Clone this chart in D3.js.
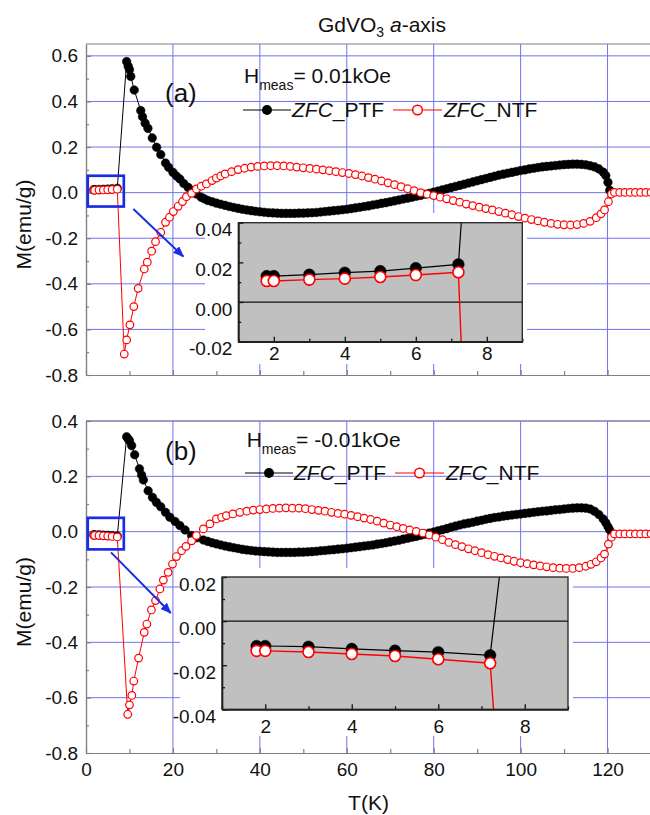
<!DOCTYPE html>
<html>
<head>
<meta charset="utf-8">
<script src="https://cdn.jsdelivr.net/npm/d3@7"></script>
<style>
  body { margin: 0; background: #fff; }
  svg text { font-family: "Liberation Sans", Arial, Helvetica, sans-serif; fill: #111; }
</style>
</head>
<body>
<div id="chart"></div>
<script>
// ---- data ----
// temperatures of the dense part of the ZFC_PTF runs (K)
var ptfBandTemp = [
  28, 29, 30, 31, 32, 33, 34, 35, 36, 37,
  38, 39, 40, 41, 42, 43, 44, 45, 46, 47,
  48, 49, 50, 51, 52, 53, 54, 55, 56, 57,
  58, 59, 60, 61, 62, 63, 64, 65, 66, 67,
  68, 69, 70, 71, 72, 73, 74, 75, 76, 77,
  78, 79, 80, 81, 82, 83, 84, 85, 86, 87,
  88, 89, 90, 91, 92, 93, 94, 95, 96, 97,
  98, 99, 100, 101, 102, 103, 104, 105, 106, 107,
  108, 109, 110, 111, 112, 113, 114, 115, 116, 117,
  118, 119, 119.6, 120.1, 120.5
];

// (a) H = 0.01 kOe, ZFC_PTF
var ptfTempA = [
  1.8, 2.0, 3, 4, 5, 6, 7.2, 9.35, 9.7, 10.0,
  10.3, 11.1, 12.6, 13.0, 13.6, 14.25, 15.25, 16.25, 17.2, 18.3,
  19.0, 20.0, 20.8, 21.6, 22.5, 23.5, 24.5, 25.4, 26.5, 27.2
].concat(ptfBandTemp);
var ptfMagA = [
  0.0131, 0.0131, 0.0138, 0.0148, 0.0156, 0.0171, 0.0190, 0.575, 0.555, 0.540,
  0.510, 0.450, 0.360, 0.333, 0.305, 0.282, 0.240, 0.199, 0.167, 0.130,
  0.111, 0.089, 0.073, 0.060, 0.040, 0.023, 0.008, -0.006, -0.020, -0.027,
  -0.034, -0.040, -0.046, -0.051, -0.056, -0.061, -0.065, -0.069, -0.073, -0.076,
  -0.079, -0.082, -0.084, -0.086, -0.088, -0.089, -0.090, -0.091, -0.091, -0.091,
  -0.091, -0.090, -0.090, -0.089, -0.088, -0.087, -0.085, -0.083, -0.081, -0.079,
  -0.077, -0.075, -0.073, -0.070, -0.067, -0.064, -0.061, -0.058, -0.054, -0.051,
  -0.047, -0.044, -0.040, -0.036, -0.032, -0.028, -0.024, -0.020, -0.016, -0.012,
  -0.007, -0.003, 0.002, 0.007, 0.012, 0.017, 0.022, 0.027, 0.032, 0.037,
  0.042, 0.047, 0.052, 0.057, 0.062, 0.067, 0.072, 0.077, 0.081, 0.085,
  0.089, 0.093, 0.097, 0.100, 0.104, 0.107, 0.110, 0.113, 0.115, 0.117,
  0.119, 0.121, 0.123, 0.124, 0.125, 0.125, 0.124, 0.122, 0.118, 0.113,
  0.104, 0.090, 0.075, 0.045, 0.010
];

// (a) ZFC_NTF
var ntfTempA = [
  1.8, 2.0, 3, 4, 5, 6, 7.2, 8.8, 9.35, 10.1,
  11.0, 12.0, 13.4, 14.1, 15.1, 16.0, 17.2, 18.3, 19.2, 20.1,
  21.2, 22.2, 23.1, 24.3, 25.4, 26.5, 27.7, 29.0, 30.0, 31.0,
  32.0, 33.5, 35.0, 36.5, 38.0, 39.5, 41.0, 42.5, 44.0, 45.5,
  47.0, 48.5, 50.0, 51.5, 53.0, 54.5, 56.0, 57.5, 59.0, 60.5,
  62.0, 63.5, 65.0, 66.5, 68.0, 69.5, 71.0, 72.5, 74.0, 75.5,
  77.0, 78.5, 80.0, 81.5, 83.0, 84.5, 86.0, 87.5, 89.0, 90.5,
  92.0, 93.5, 95.0, 96.5, 98.0, 99.5, 101.0, 102.5, 104.0, 105.5,
  107.0, 108.5, 110.0, 111.5, 113.0, 114.5, 116.0, 117.4, 118.5, 119.3,
  120.2, 120.9, 121.6, 122.8, 124.0, 125.2, 126.4, 127.6, 128.8, 130.0
];
var ntfMagA = [
  0.0106, 0.0106, 0.0113, 0.0118, 0.0126, 0.0136, 0.0150, -0.708, -0.646, -0.580,
  -0.500, -0.420, -0.335, -0.305, -0.257, -0.215, -0.174, -0.130, -0.108, -0.083,
  -0.060, -0.039, -0.018, -0.003, 0.016, 0.028, 0.038, 0.053, 0.064, 0.073,
  0.082, 0.092, 0.101, 0.107, 0.112, 0.115, 0.117, 0.118, 0.118, 0.117,
  0.115, 0.112, 0.109, 0.106, 0.103, 0.100, 0.096, 0.092, 0.088, 0.084,
  0.079, 0.073, 0.066, 0.059, 0.051, 0.043, 0.035, 0.026, 0.017, 0.009,
  0.000, -0.007, -0.013, -0.020, -0.027, -0.035, -0.042, -0.050, -0.057, -0.064,
  -0.070, -0.076, -0.083, -0.090, -0.097, -0.105, -0.112, -0.118, -0.124, -0.130,
  -0.135, -0.139, -0.141, -0.142, -0.140, -0.135, -0.126, -0.110, -0.093, -0.076,
  -0.040, -0.006, 0.001, 0.001, 0.001, 0.001, 0.001, 0.001, 0.001, 0.001
];

// (b) H = -0.01 kOe, ZFC_PTF
var ptfTempB = [
  1.8, 2.0, 3, 4, 5, 6, 7.2, 9.35, 9.7, 10.0,
  10.5, 11.2, 12.3, 12.8, 13.2, 14.3, 15.3, 16.2, 17.2, 18.3,
  19.3, 20.5, 21.6, 22.8, 24.3, 25.5, 27.0
].concat(ptfBandTemp);
var ptfMagB = [
  -0.0113, -0.0113, -0.0116, -0.0126, -0.0134, -0.0141, -0.0155, 0.343, 0.335, 0.329,
  0.311, 0.278, 0.227, 0.205, 0.187, 0.148, 0.124, 0.106, 0.090, 0.070,
  0.052, 0.037, 0.022, 0.006, -0.014, -0.022, -0.030,
  -0.035, -0.040, -0.044, -0.048, -0.052, -0.055, -0.058, -0.061, -0.064, -0.066,
  -0.068, -0.070, -0.071, -0.072, -0.073, -0.074, -0.075, -0.075, -0.075, -0.075,
  -0.075, -0.074, -0.074, -0.073, -0.072, -0.071, -0.069, -0.068, -0.066, -0.065,
  -0.063, -0.062, -0.060, -0.058, -0.056, -0.054, -0.052, -0.050, -0.048, -0.045,
  -0.043, -0.040, -0.037, -0.034, -0.031, -0.027, -0.024, -0.020, -0.017, -0.013,
  -0.009, -0.005, -0.001, 0.003, 0.007, 0.011, 0.016, 0.020, 0.024, 0.028,
  0.031, 0.034, 0.038, 0.041, 0.045, 0.048, 0.051, 0.053, 0.056, 0.058,
  0.060, 0.062, 0.064, 0.066, 0.068, 0.070, 0.072, 0.074, 0.075, 0.077,
  0.079, 0.080, 0.082, 0.084, 0.085, 0.086, 0.086, 0.085, 0.082, 0.074,
  0.062, 0.046, 0.032, 0.018, 0.006
];

// (b) ZFC_NTF
var ntfTempB = [
  1.8, 2.0, 3, 4, 5, 6, 7.2, 9.6, 10.0, 10.55,
  11.0, 12.1, 13.4, 14.0, 15.05, 16.0, 17.0, 17.8, 18.9, 19.9,
  20.8, 22.0, 23.0, 24.3, 25.4, 27.0, 28.5, 30.0, 31.2, 32.3,
  33.8, 35.4, 37.0, 38.5, 40.0, 41.5, 43.0, 44.5, 46.0, 47.5,
  49.0, 50.5, 52.0, 53.5, 55.0, 56.5, 58.0, 59.5, 61.0, 62.5,
  64.0, 65.5, 67.0, 68.5, 70.0, 71.5, 73.0, 74.5, 76.0, 77.5,
  79.0, 80.5, 82.0, 83.5, 85.0, 86.5, 88.0, 89.5, 91.0, 92.5,
  94.0, 95.5, 97.0, 98.5, 100.0, 101.5, 103.0, 104.5, 106.0, 107.5,
  109.0, 110.5, 112.0, 113.5, 115.0, 116.2, 117.4, 118.5, 119.3, 120.2,
  120.9, 121.6, 122.8, 124.0, 125.2, 126.4, 127.6, 128.8, 130.0
];
var ntfMagB = [
  -0.0135, -0.0135, -0.0140, -0.0149, -0.0158, -0.0173, -0.0191, -0.660, -0.626, -0.592,
  -0.540, -0.457, -0.364, -0.334, -0.283, -0.249, -0.207, -0.175, -0.147, -0.117,
  -0.090, -0.069, -0.053, -0.033, -0.014, 0.010, 0.028, 0.046, 0.052, 0.058,
  0.064, 0.070, 0.074, 0.078, 0.080, 0.082, 0.084, 0.085, 0.086, 0.085,
  0.085, 0.083, 0.080, 0.077, 0.074, 0.070, 0.066, 0.063, 0.059, 0.054,
  0.049, 0.044, 0.038, 0.031, 0.024, 0.018, 0.012, 0.006, 0.001, -0.005,
  -0.012, -0.020, -0.029, -0.039, -0.047, -0.054, -0.062, -0.069, -0.076, -0.083,
  -0.089, -0.095, -0.101, -0.107, -0.112, -0.116, -0.120, -0.124, -0.127, -0.130,
  -0.132, -0.133, -0.133, -0.130, -0.125, -0.118, -0.109, -0.095, -0.081, -0.045,
  -0.020, -0.008, -0.008, -0.008, -0.008, -0.008, -0.008, -0.008, -0.008
];

// ticks
var xMajorTicks = [0, 20, 40, 60, 80, 100, 120];
var xMinorTicks = [10, 30, 50, 70, 90, 110, 130];
var yTicksA = [-0.8, -0.6, -0.4, -0.2, 0.0, 0.2, 0.4, 0.6];
var yMinorA = [-0.7, -0.5, -0.3, -0.1, 0.1, 0.3, 0.5];
var yTicksB = [-0.8, -0.6, -0.4, -0.2, 0.0, 0.2, 0.4];
var yMinorB = [-0.7, -0.5, -0.3, -0.1, 0.1, 0.3];
var insetXTicks = [2, 4, 6, 8];
var insetXMinor = [1, 3, 5, 7, 9];
var insetYTicksA = [-0.02, 0.00, 0.02, 0.04];
var insetYMinorA = [-0.01, 0.01, 0.03];
var insetYTicksB = [-0.04, -0.02, 0.00, 0.02];
var insetYMinorB = [-0.03, -0.01, 0.01];

// ---- layout & style ----
var svgWidth = 650, svgHeight = 815;
var plotLeft = 86, plotRight = 651;
var fontFamily = '"Liberation Sans", Arial, Helvetica, sans-serif';
var gridColor = "#7272f0";
var axisColor = "#808080";
var ptfColor = "#000";
var ntfColor = "#ff0000";
var noteColor = "#1b2de4";

var panels = [
  {
    top: 44, bottom: 375, yDomain: [-0.8, 0.652], yTicks: yTicksA, yMinor: yMinorA,
    ptfT: ptfTempA, ptfM: ptfMagA, ntfT: ntfTempA, ntfM: ntfMagA,
    tag: "(a)", tagX: 165, tagY: 102,
    field: "= 0.01kOe", fieldX: 244, fieldY: 83,
    legendX: 243, legendY: 110, showXLabels: false,
    inset: { left: 238.3, right: 522.3, top: 222.7, bottom: 341.7,
             yDomain: [-0.02, 0.04], yTicks: insetYTicksA, yMinor: insetYMinorA,
             bg: [205, 213, 527, 364], xPad: 5 },
    box: [0.4, 8.7, 0.074, -0.061],
    arrow: [10.9, -0.072, 22.4, -0.28]
  },
  {
    top: 421, bottom: 753, yDomain: [-0.8, 0.4], yTicks: yTicksB, yMinor: yMinorB,
    ptfT: ptfTempB, ptfM: ptfMagB, ntfT: ntfTempB, ntfM: ntfMagB,
    tag: "(b)", tagX: 165, tagY: 460,
    field: "= -0.01kOe", fieldX: 246.7, fieldY: 447,
    legendX: 245, legendY: 473, showXLabels: true,
    inset: { left: 222, right: 568, top: 577, bottom: 709.3,
             yDomain: [-0.04, 0.02], yTicks: insetYTicksB, yMinor: insetYMinorB,
             bg: [180, 568, 573, 736], xPad: 10 },
    box: [0.4, 8.7, 0.05, -0.064],
    arrow: [5.75, -0.075, 19.5, -0.294]
  }
];

var svg = d3.select("#chart").append("svg")
  .attr("width", svgWidth)
  .attr("height", svgHeight);

var defs = svg.append("defs");
defs.append("marker")
  .attr("id", "arrowHead")
  .attr("markerUnits", "userSpaceOnUse")
  .attr("markerWidth", 12).attr("markerHeight", 10)
  .attr("refX", 10).attr("refY", 4.5)
  .attr("orient", "auto")
  .append("path")
  .attr("d", "M0,0 L11,4.5 L0,9 Z")
  .attr("fill", noteColor);

var x = d3.scaleLinear().domain([0, 130]).range([plotLeft, plotRight]);

function zip(ts, ms) {
  return ts.map(function(t, i) { return { t: t, m: ms[i] }; });
}

function styleAxis(g, color, width, fontSize) {
  g.attr("font-family", fontFamily).attr("font-size", fontSize);
  g.select(".domain").attr("stroke", color).attr("stroke-width", width);
  g.selectAll(".tick line").attr("stroke", color).attr("stroke-width", width);
  g.selectAll(".tick text").attr("fill", "#111");
}

function drawSeries(g, xs, ys, data, color, r, open, lineWidth) {
  var line = d3.line().x(d => xs(d.t)).y(d => ys(d.m));
  g.append("path")
    .datum(data)
    .attr("d", line)
    .attr("fill", "none")
    .attr("stroke", color)
    .attr("stroke-width", lineWidth);
  g.selectAll(null)
    .data(data)
    .enter()
    .append("circle")
    .attr("cx", d => xs(d.t))
    .attr("cy", d => ys(d.m))
    .attr("r", r)
    .attr("fill", open ? "#fff" : color)
    .attr("stroke", color)
    .attr("stroke-width", open ? lineWidth + 0.2 : 0.5);
}

function drawPanel(p, idx) {
  var y = d3.scaleLinear().domain(p.yDomain).range([p.bottom, p.top]);
  var g = svg.append("g");

  // grid lines
  g.selectAll(null)
    .data(p.yTicks.filter(d => d > p.yDomain[0]))
    .enter().append("line")
    .attr("x1", plotLeft).attr("x2", plotRight)
    .attr("y1", d => y(d)).attr("y2", d => y(d))
    .attr("stroke", gridColor).attr("stroke-width", 1);
  g.selectAll(null)
    .data(xMajorTicks.filter(d => d > 0))
    .enter().append("line")
    .attr("x1", d => x(d)).attr("x2", d => x(d))
    .attr("y1", p.top).attr("y2", p.bottom)
    .attr("stroke", gridColor).attr("stroke-width", 1);

  // white area behind the inset and its labels
  var bg = p.inset.bg;
  g.append("rect")
    .attr("x", bg[0]).attr("y", bg[1])
    .attr("width", bg[2] - bg[0]).attr("height", bg[3] - bg[1])
    .attr("fill", "#fff");

  // axes
  var leftAxis = g.append("g")
    .attr("transform", `translate(${plotLeft},0)`)
    .call(d3.axisLeft(y).tickValues(p.yTicks).tickFormat(d => d.toFixed(1))
      .tickSizeInner(-5).tickSizeOuter(0).tickPadding(8));
  styleAxis(leftAxis, axisColor, 1.2, 19);
  var leftMinor = g.append("g")
    .attr("transform", `translate(${plotLeft},0)`)
    .call(d3.axisLeft(y).tickValues(p.yMinor).tickFormat("")
      .tickSizeInner(-3).tickSizeOuter(0));
  styleAxis(leftMinor, axisColor, 1.2, 19);

  var bottomAxis = g.append("g")
    .attr("transform", `translate(0,${p.bottom})`)
    .call(d3.axisBottom(x).tickValues(xMajorTicks)
      .tickFormat(p.showXLabels ? d3.format("d") : "")
      .tickSizeInner(-5).tickSizeOuter(0).tickPadding(10));
  styleAxis(bottomAxis, axisColor, 1.2, 19);
  var bottomMinor = g.append("g")
    .attr("transform", `translate(0,${p.bottom})`)
    .call(d3.axisBottom(x).tickValues(xMinorTicks).tickFormat("")
      .tickSizeInner(-4).tickSizeOuter(0));
  styleAxis(bottomMinor, axisColor, 1.2, 19);

  g.append("line")
    .attr("x1", plotLeft).attr("x2", plotRight)
    .attr("y1", p.top).attr("y2", p.top)
    .attr("stroke", axisColor).attr("stroke-width", 1.2);

  // main series
  var ptf = zip(p.ptfT, p.ptfM);
  var ntf = zip(p.ntfT, p.ntfM);
  drawSeries(g, x, y, ptf, ptfColor, 4.3, false, 1);
  drawSeries(g, x, y, ntf, ntfColor, 3.8, true, 1);

  // zoom box and arrow
  g.append("rect")
    .attr("x", x(p.box[0])).attr("y", y(p.box[2]))
    .attr("width", x(p.box[1]) - x(p.box[0]))
    .attr("height", y(p.box[3]) - y(p.box[2]))
    .attr("fill", "none")
    .attr("stroke", noteColor)
    .attr("stroke-width", 2.7);
  g.append("line")
    .attr("x1", x(p.arrow[0])).attr("y1", y(p.arrow[1]))
    .attr("x2", x(p.arrow[2])).attr("y2", y(p.arrow[3]))
    .attr("stroke", noteColor)
    .attr("stroke-width", 2)
    .attr("marker-end", "url(#arrowHead)");

  // ---- inset ----
  var ins = p.inset;
  var ix = d3.scaleLinear().domain([1, 9]).range([ins.left, ins.right]);
  var iy = d3.scaleLinear().domain(ins.yDomain).range([ins.bottom, ins.top]);
  var ig = svg.append("g");
  ig.append("rect")
    .attr("x", ins.left).attr("y", ins.top)
    .attr("width", ins.right - ins.left).attr("height", ins.bottom - ins.top)
    .attr("fill", "#c0c0c0");
  ig.append("line")
    .attr("x1", ins.left).attr("x2", ins.right)
    .attr("y1", iy(0)).attr("y2", iy(0))
    .attr("stroke", "#111").attr("stroke-width", 1.3);

  var clipId = "insetClip" + idx;
  defs.append("clipPath").attr("id", clipId)
    .append("rect")
    .attr("x", ins.left).attr("y", ins.top)
    .attr("width", ins.right - ins.left).attr("height", ins.bottom - ins.top);
  var sg = ig.append("g").attr("clip-path", `url(#${clipId})`);
  drawSeries(sg, ix, iy, ptf.filter(d => d.t < 12), ptfColor, 5.8, false, 1.2);
  drawSeries(sg, ix, iy, ntf.filter(d => d.t < 12), ntfColor, 5.5, true, 1.4);

  var iLeft = ig.append("g")
    .attr("transform", `translate(${ins.left},0)`)
    .call(d3.axisLeft(iy).tickValues(ins.yTicks).tickFormat(d => d.toFixed(2))
      .tickSizeInner(-5).tickSizeOuter(0).tickPadding(6));
  styleAxis(iLeft, "#111", 1.3, 19);
  iLeft.selectAll(".tick text").attr("y", 7);
  var iLeftMinor = ig.append("g")
    .attr("transform", `translate(${ins.left},0)`)
    .call(d3.axisLeft(iy).tickValues(ins.yMinor).tickFormat("")
      .tickSizeInner(-3).tickSizeOuter(0));
  styleAxis(iLeftMinor, "#111", 1.3, 19);
  var iBottom = ig.append("g")
    .attr("transform", `translate(0,${ins.bottom})`)
    .call(d3.axisBottom(ix).tickValues(insetXTicks).tickFormat(d3.format("d"))
      .tickSizeInner(-5).tickSizeOuter(0).tickPadding(ins.xPad));
  styleAxis(iBottom, "#111", 1.3, 19);
  var iBottomMinor = ig.append("g")
    .attr("transform", `translate(0,${ins.bottom})`)
    .call(d3.axisBottom(ix).tickValues(insetXMinor).tickFormat("")
      .tickSizeInner(-3).tickSizeOuter(0));
  styleAxis(iBottomMinor, "#111", 1.3, 19);
  ig.append("rect")
    .attr("x", ins.left).attr("y", ins.top)
    .attr("width", ins.right - ins.left).attr("height", ins.bottom - ins.top)
    .attr("fill", "none").attr("stroke", "#222").attr("stroke-width", 1.3);

  // ---- panel texts ----
  svg.append("text")
    .attr("x", p.tagX).attr("y", p.tagY)
    .attr("font-size", 26)
    .text(p.tag);

  var field = svg.append("text")
    .attr("x", p.fieldX).attr("y", p.fieldY)
    .attr("font-size", 21);
  field.append("tspan").text("H");
  field.append("tspan").attr("font-size", 14).attr("dy", 7).text("meas");
  field.append("tspan").attr("dy", -7).text(p.field);

  // legend
  var lg = svg.append("g").attr("transform", `translate(${p.legendX},${p.legendY})`);
  lg.append("line").attr("x1", 0).attr("x2", 48).attr("y1", 0).attr("y2", 0)
    .attr("stroke", ptfColor).attr("stroke-width", 1);
  lg.append("circle").attr("cx", 24).attr("cy", 0).attr("r", 5).attr("fill", ptfColor);
  var t1 = lg.append("text").attr("x", 49).attr("y", 7).attr("font-size", 21);
  t1.append("tspan").attr("font-style", "italic").text("ZFC");
  t1.append("tspan").text("_PTF");
  lg.append("line").attr("x1", 150).attr("x2", 199).attr("y1", 0).attr("y2", 0)
    .attr("stroke", ntfColor).attr("stroke-width", 1.2);
  lg.append("circle").attr("cx", 174.5).attr("cy", 0).attr("r", 4.8)
    .attr("fill", "#fff").attr("stroke", ntfColor).attr("stroke-width", 1.5);
  var t2 = lg.append("text").attr("x", 201).attr("y", 7).attr("font-size", 21);
  t2.append("tspan").attr("font-style", "italic").text("ZFC");
  t2.append("tspan").text("_NTF");

  // y axis title
  var midY = (p.top + p.bottom) / 2 + 15;
  svg.append("text")
    .attr("transform", `translate(31,${midY}) rotate(-90)`)
    .attr("text-anchor", "middle")
    .attr("font-size", 21)
    .text("M(emu/g)");
}

panels.forEach(drawPanel);

// title
var title = svg.append("text")
  .attr("x", 318).attr("y", 32)
  .attr("font-size", 21);
title.append("tspan").text("GdVO");
title.append("tspan").attr("font-size", 14).attr("dy", 5).text("3");
title.append("tspan").attr("dy", -5).text(" ");
title.append("tspan").attr("font-style", "italic").text("a");
title.append("tspan").text("-axis");

// x axis title
svg.append("text")
  .attr("x", (plotLeft + plotRight) / 2).attr("y", 810)
  .attr("text-anchor", "middle")
  .attr("font-size", 21)
  .text("T(K)");
</script>
</body>
</html>
